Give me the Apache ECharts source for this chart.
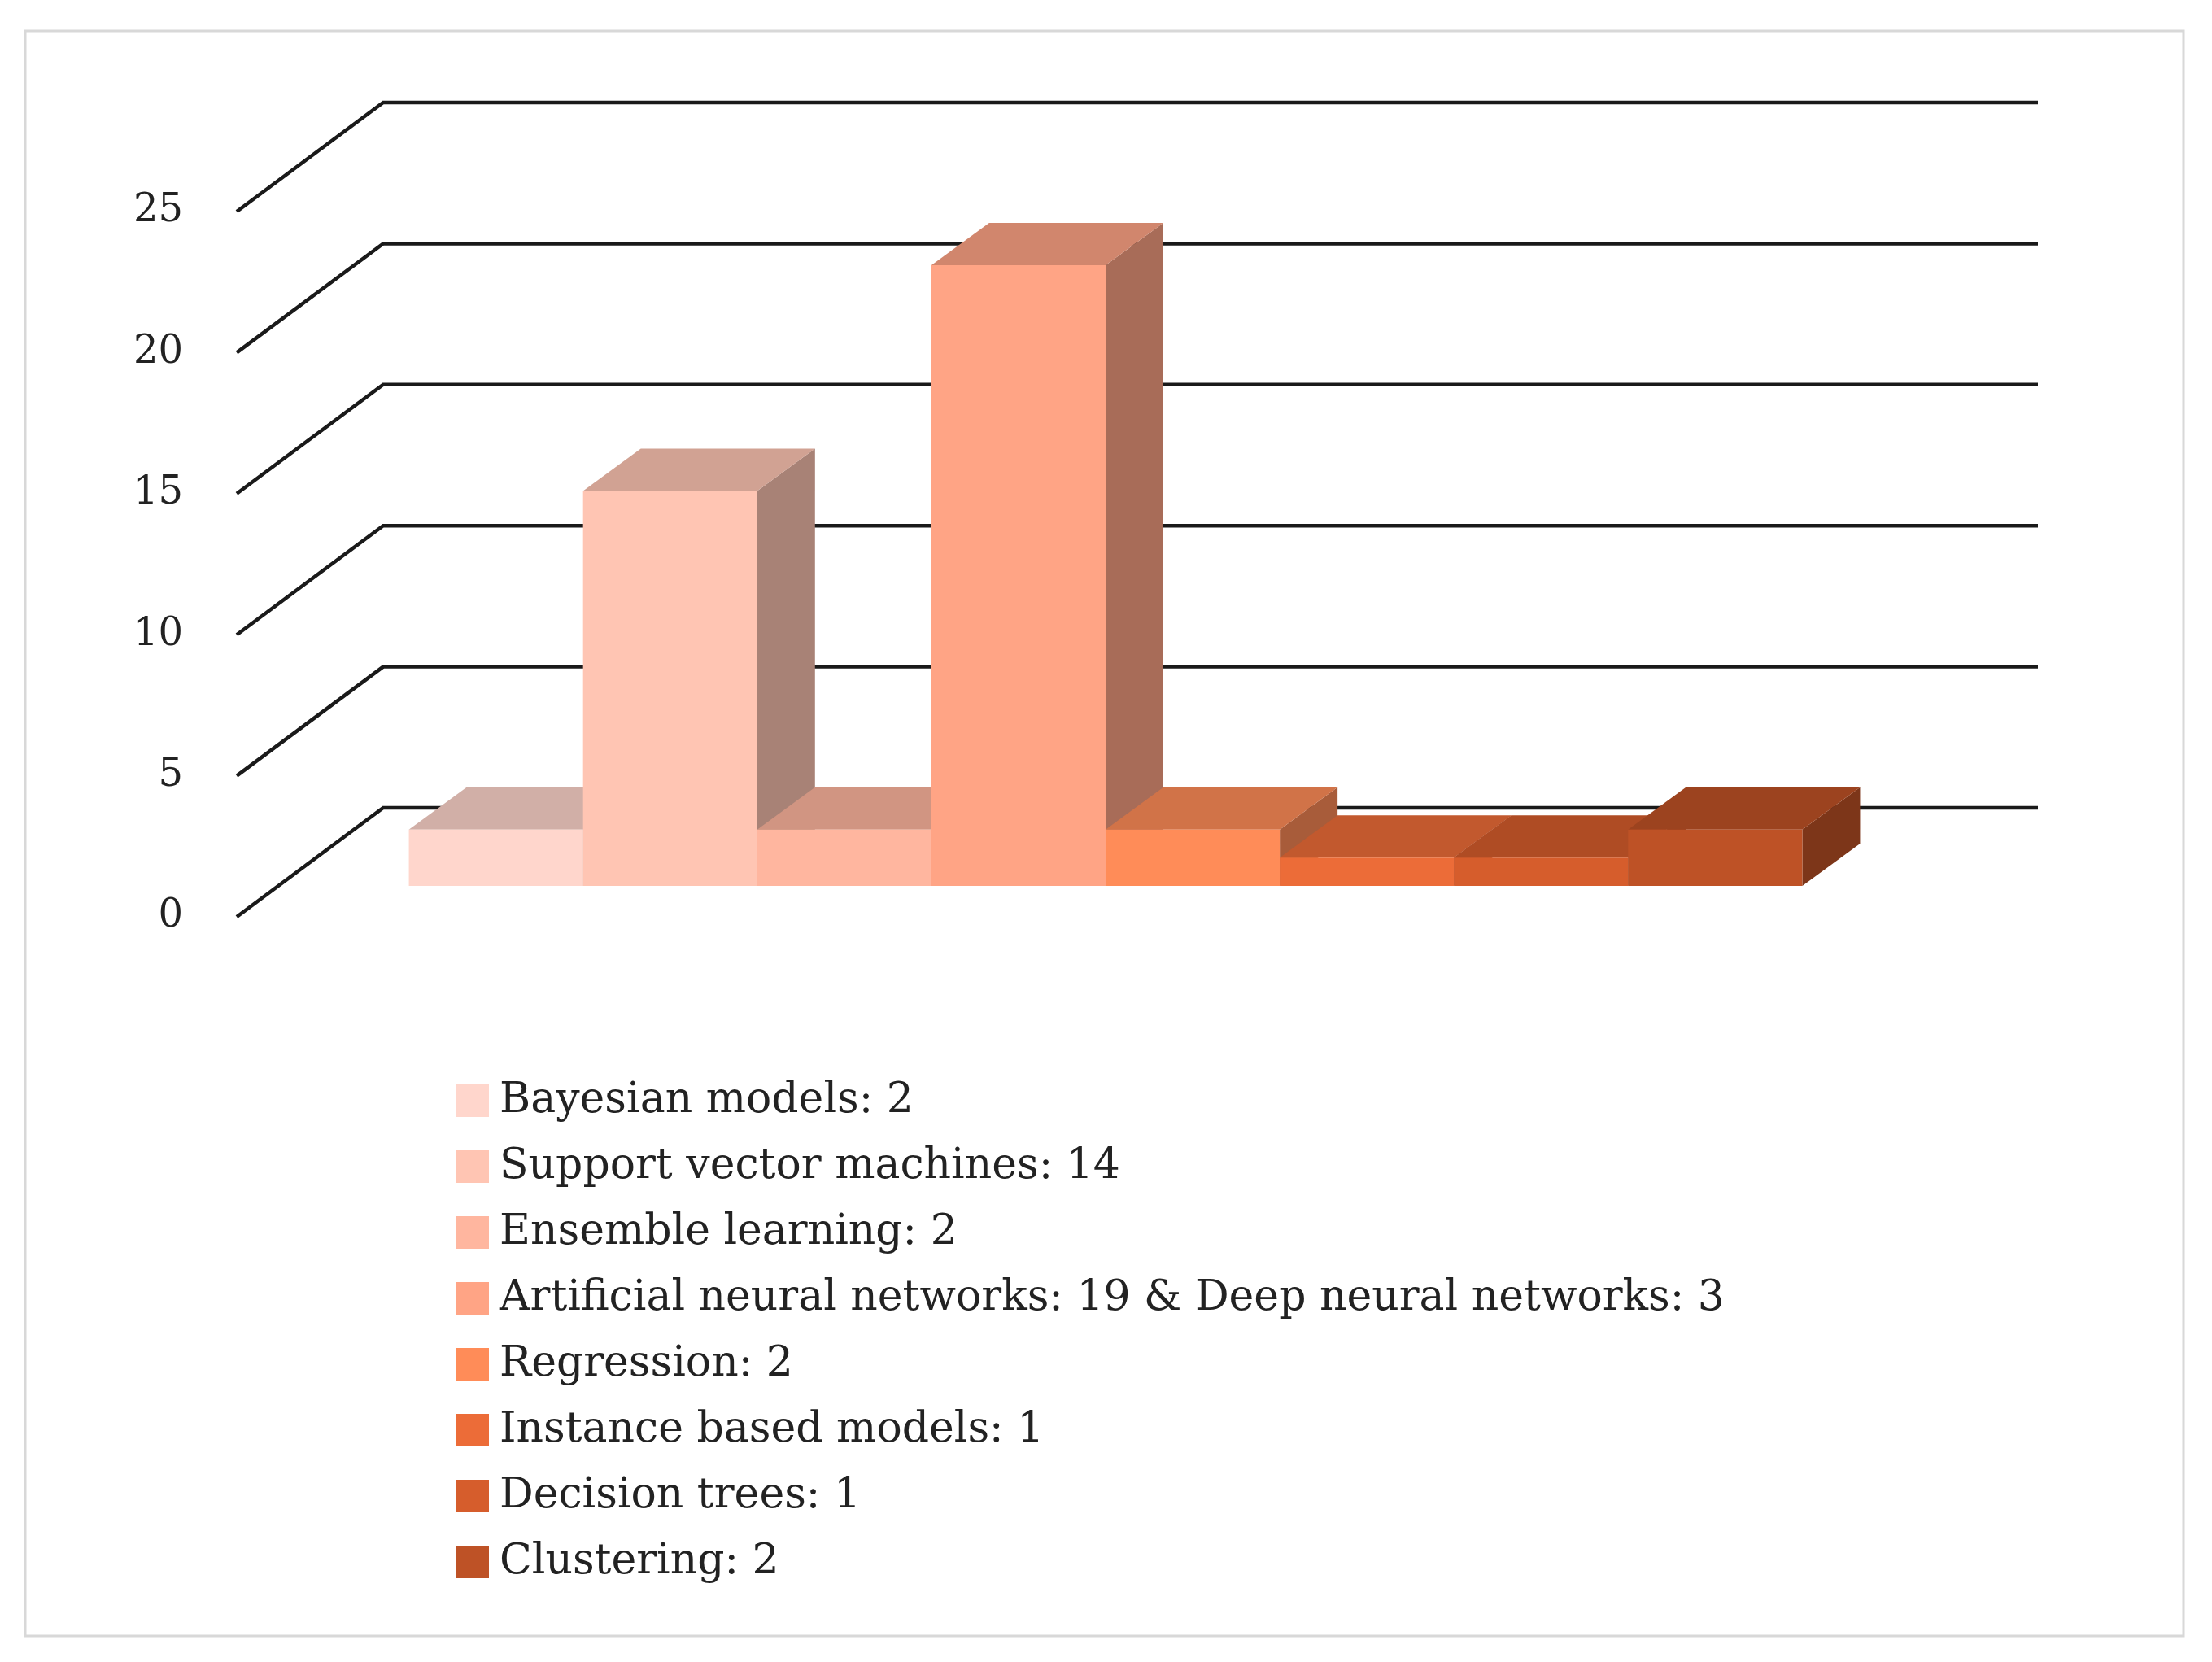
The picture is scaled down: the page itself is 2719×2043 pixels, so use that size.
<!DOCTYPE html>
<html><head><meta charset="utf-8">
<script src="https://cdn.jsdelivr.net/npm/echarts@6/dist/echarts.min.js"></script>
<style>html,body{margin:0;padding:0;background:#fff}#c{width:2719px;height:2043px}</style>
</head><body><div id="c"></div>
<script>
const categories = ["Bayesian models: 2","Support vector machines: 14","Ensemble learning: 2","Artificial neural networks: 19 & Deep neural networks: 3","Regression: 2","Instance based models: 1","Decision trees: 1","Clustering: 2"];
const values = [2, 14, 2, 22, 2, 1, 1, 2];
const colors = ["#FFD6CC","#FFC5B3","#FFB69F","#FFA485","#FF8C58","#EC6C38","#D65D2C","#BE5226"];
const yTicks = [0, 5, 10, 15, 20, 25];

const DEPTH = [180, -134];
const BAR_FRONT = [51, -38];
const BAR_DEPTH = [71, -52];

function shade(hex, f){
  const n = parseInt(hex.slice(1),16);
  const r=Math.round(((n>>16)&255)*f), g=Math.round(((n>>8)&255)*f), b=Math.round((n&255)*f);
  return 'rgb('+r+','+g+','+b+')';
}

const chart = echarts.init(document.getElementById('c'), null, {renderer:'canvas'});
const series = [];
series.push({
  type:'custom', name:'grid', z:1, silent:true,
  data: yTicks.map(v=>[v]),
  renderItem:(params, api)=>{
    const v = api.value(0);
    const p0 = api.coord([-0.75, v]);
    const p2 = api.coord([8.75, v]);
    return {type:'polyline', shape:{points:[p0,[p0[0]+DEPTH[0],p0[1]+DEPTH[1]],[p2[0]+DEPTH[0],p2[1]+DEPTH[1]]]},
      style:{stroke:'#1a1a1a', lineWidth:4.5, fill:null}};
  }
});
categories.forEach((name,i)=>{
  series.push({
    type:'custom', name:name, z:2, color:colors[i],
    data:[[i, values[i]]],
    renderItem:(params, api)=>{
      const x = api.value(0), v = api.value(1);
      const a = api.coord([x, 0]), b = api.coord([x+1, v]);
      const x0=a[0]+BAR_FRONT[0], x1=b[0]+BAR_FRONT[0];
      const y0=a[1]+BAR_FRONT[1], y1=b[1]+BAR_FRONT[1];
      const dx=BAR_DEPTH[0], dy=BAR_DEPTH[1];
      const c = colors[i];
      return {type:'group', children:[
        {type:'polygon', shape:{points:[[x1,y0],[x1+dx,y0+dy],[x1+dx,y1+dy],[x1,y1]]}, style:{fill:shade(c,0.66)}},
        {type:'polygon', shape:{points:[[x0,y1],[x1,y1],[x1+dx,y1+dy],[x0+dx,y1+dy]]}, style:{fill:shade(c,0.82)}},
        {type:'rect', shape:{x:x0,y:y1,width:x1-x0,height:y0-y1}, style:{fill:c}}
      ]};
    }
  });
});

chart.setOption({
  animation:false,
  backgroundColor:'#fff',
  graphic:[{type:'rect', shape:{x:31,y:38,width:2653,height:1973}, style:{fill:null,stroke:'#d8d8d8',lineWidth:3}, z:-1}],
  grid:{left:291, right:394, top:260, bottom:916},
  xAxis:{type:'value', min:-0.75, max:8.75, show:false},
  yAxis:{type:'value', min:0, max:25, interval:5,
    axisLine:{show:false}, axisTick:{show:false}, splitLine:{show:false},
    axisLabel:{margin:66, fontSize:48, color:'#222', fontFamily:'DejaVu Serif'}},
  legend:{data:categories, orient:'vertical', left:556, top:1318, itemGap:21,
    itemWidth:40, itemHeight:40, icon:'rect',
    textStyle:{fontSize:52, lineHeight:60, color:'#222', fontFamily:'DejaVu Serif', padding:[0,0,0,8]}},
  series:series
});
</script></body></html>
